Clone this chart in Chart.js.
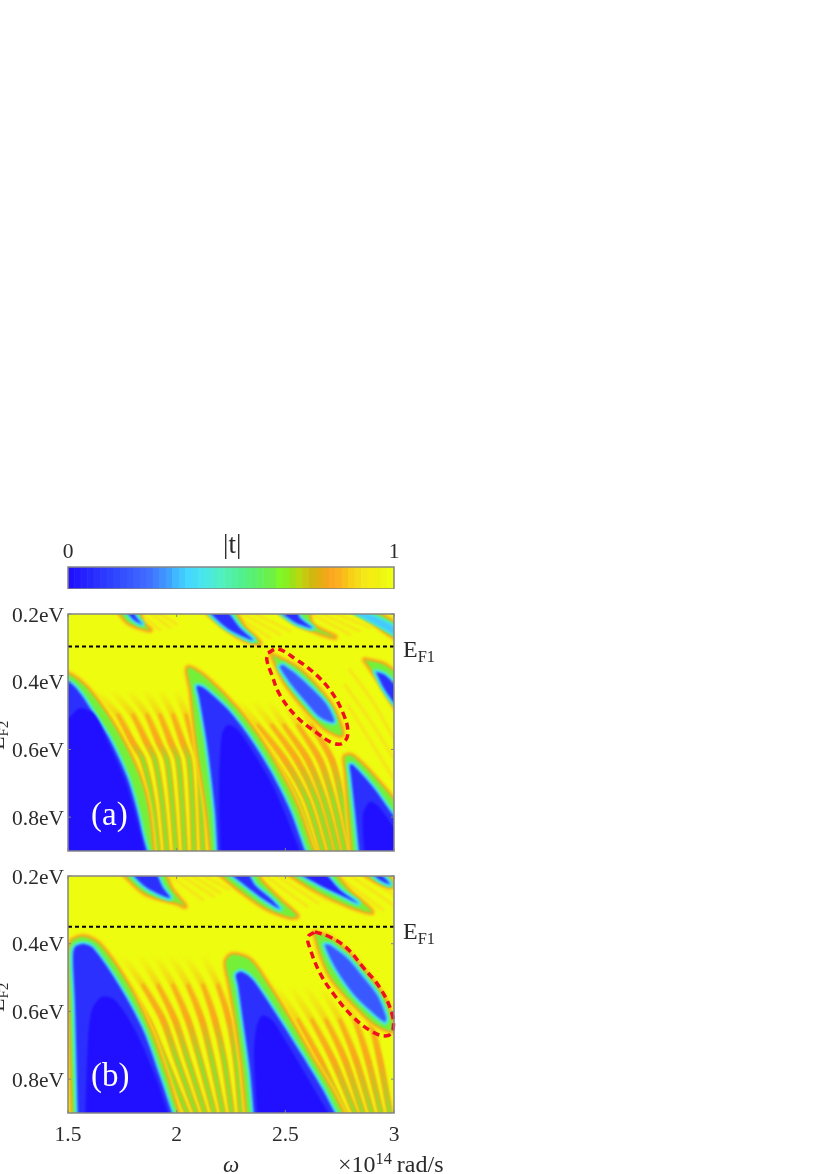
<!DOCTYPE html>
<html>
<head>
<meta charset="utf-8">
<script src="https://cdn.jsdelivr.net/npm/chart.js@4"></script>
<style>
  html, body { margin: 0; background: #fff; }
  #page { position: relative; width: 830px; height: 1174px; overflow: hidden; filter: blur(0.45px); font-family: "Liberation Serif", serif; color: #2b2b2b; }
  canvas { position: absolute; left: 0; }
  .lbl { position: absolute; line-height: 1; font-size: 24px; white-space: nowrap; }
  .low { position: relative; top: 0.3em; font-size: 0.68em; }
  .high { position: relative; top: -0.5em; font-size: 0.68em; margin-right: 5px; }
</style>
</head>
<body>
<div id="page">
  <canvas id="barChart" width="450" height="59" style="top:530px"></canvas>
  <canvas id="panelA" width="450" height="277" style="top:594px"></canvas>
  <canvas id="panelB" width="450" height="297" style="top:856px"></canvas>
  <span class="lbl" style="left:223px;top:531px;font-size:27px">|t|</span>
  <span class="lbl" style="left:403px;top:637px">E<span class="low">F1</span></span>
  <span class="lbl" style="left:403px;top:919px">E<span class="low">F1</span></span>
  <span class="lbl" style="left:91px;top:798px;font-size:33px;color:#fff">(a)</span>
  <span class="lbl" style="left:91px;top:1059px;font-size:33px;color:#fff">(b)</span>
  <span class="lbl" style="left:-14px;top:750px;font-size:22px;transform-origin:0 0;transform:rotate(-90deg)">E<span class="low">F2</span></span>
  <span class="lbl" style="left:-14px;top:1012px;font-size:22px;transform-origin:0 0;transform:rotate(-90deg)">E<span class="low">F2</span></span>
  <span class="lbl" style="left:223px;top:1153px;font-style:italic;font-size:23px">&omega;</span>
  <span class="lbl" style="left:338px;top:1152px;font-size:24px">&times;10<span class="high">14</span>rad/s</span>
</div>
<script>
// ===== DATA =====
const omegaTicks = [1.5, 2, 2.5, 3];
const fermiTicks = [0.2, 0.4, 0.6, 0.8];
const barTicks = [0, 1];
const fermiLineA = 0.296;
const fermiLineB = 0.35;

// colour bar, one level per step of |t|
const barLevels = [.01,.03,.05,.07,.09,.11,.13,.15,.17,.19,.21,.23,.25,.27,.29,.31,.33,.35,.37,.39,.41,.43,.45,.47,.49,
  .51,.53,.55,.57,.59,.61,.63,.65,.67,.69,.71,.73,.75,.77,.79,.81,.83,.85,.87,.89,.91,.93,.95,.97,.99];
const barColors = ['#2010ff','#2218ff','#2420ff','#2628ff','#2a30ff','#2c38ff','#2e40ff','#3048ff','#3450ff','#3858ff',
  '#3c60ff','#3e68ff','#4070ff','#4080ff','#4090ff','#40a0ff','#40b8ff','#42c8ff','#44d8ff','#46dcf8',
  '#48e4f0','#4ae8e0','#4cecd0','#50f0c0','#50f0b0','#50f0a0','#50f090','#54f080','#58f070','#60f060',
  '#68f050','#70f040','#80f828','#88f020','#a0e018','#b8d810','#c8c810','#d0b810','#e0b010','#f0a818',
  '#fca820','#fcb020','#f8c018','#f8d018','#f5dc18','#f5e818','#f5ee10','#f0f010','#eef810','#eeff10'];

// panel (a) contours, [omega, E_F2]
const a1Outer = [[1.4,.36],[1.5,.377],[1.578,.413],[1.67,.489],[1.762,.587],[1.831,.684],[1.868,.773],[1.891,.9],[1.9,.96],[1.4,.96]];
const a1Inner = [[1.4,.40],[1.5,.40],[1.555,.433],[1.615,.492],[1.693,.572],[1.771,.681],[1.817,.779],[1.845,.859],[1.864,.903],[1.87,.96],[1.4,.96]];
const a1Deep = [[1.4,.51],[1.5,.507],[1.555,.478],[1.624,.498],[1.684,.578],[1.758,.684],[1.804,.779],[1.85,.9],[1.85,.96],[1.4,.96]];
const a2Outer = [[2.162,.926],[2.139,.779],[2.093,.581],[2.066,.424],[2.052,.359],[2.13,.386],[2.277,.48],[2.369,.557],[2.461,.652],[2.553,.767],[2.627,.9],[2.65,.926]];
const a2Inner = [[2.19,.93],[2.176,.779],[2.139,.581],[2.103,.445],[2.093,.413],[2.126,.419],[2.185,.451],[2.245,.489],[2.337,.566],[2.429,.661],[2.521,.779],[2.59,.9],[2.613,.93]];
const a2Deep = [[2.204,.93],[2.195,.72],[2.208,.557],[2.236,.528],[2.282,.543],[2.36,.616],[2.452,.72],[2.567,.9],[2.581,.93]];
const a3Outer = [[2.811,.926],[2.793,.779],[2.779,.661],[2.774,.622],[2.806,.619],[2.912,.684],[3.027,.785],[3.03,.93]];
const a3Inner = [[2.843,.926],[2.82,.779],[2.802,.676],[2.797,.646],[2.811,.646],[2.903,.711],[2.995,.794],[3.027,.823],[3.03,.93]];
const a3Deep = [[2.866,.926],[2.857,.794],[2.889,.755],[2.935,.773],[3.027,.867],[3.03,.93]];
const a4Outer = [[2.866,.336],[2.958,.351],[3.027,.395],[3.027,.489],[2.935,.401]];
const a4Inner = [[2.917,.371],[2.958,.38],[3.018,.424],[3.018,.472],[2.958,.424]];
const a5Outer = [[2.438,.321],[2.553,.359],[2.65,.419],[2.719,.478],[2.76,.557],[2.682,.537],[2.59,.478],[2.498,.401]];
const a5Inner = [[2.489,.351],[2.553,.38],[2.627,.424],[2.691,.469],[2.724,.519],[2.659,.504],[2.599,.463],[2.53,.41],[2.475,.356]];
const t1Outer = [[1.716,.175],[1.776,.224],[1.877,.247],[1.84,.224],[1.817,.175]];
const t1Inner = [[1.748,.175],[1.799,.215],[1.84,.23],[1.813,.209],[1.785,.175]];
const t2Outer = [[2.107,.175],[2.208,.232],[2.314,.277],[2.383,.286],[2.314,.241],[2.236,.175]];
const t2Inner = [[2.13,.182],[2.231,.241],[2.351,.277],[2.291,.241],[2.213,.182]];
const t3Outer = [[2.438,.175],[2.544,.224],[2.659,.256],[2.728,.268],[2.622,.23],[2.595,.175]];
const t3Inner = [[2.452,.182],[2.544,.224],[2.622,.241],[2.567,.212],[2.544,.182]];
const t4Outer = [[2.774,.175],[2.889,.218],[3.027,.277],[3.027,.241],[2.912,.194],[2.843,.175]];
const t4Inner = [[2.82,.194],[2.912,.224],[3.027,.265],[3.027,.253],[2.926,.215]];
const ringA = [[2.42,.315],[2.466,.303],[2.553,.336],[2.627,.371],[2.705,.424],[2.765,.492],[2.788,.551],[2.765,.581],[2.719,.581],[2.645,.551],[2.553,.504],[2.475,.439],[2.438,.38],[2.415,.336]];

// panel (a) stripes
const stripeLevelsA1 = [.424,.498,.581,.631,.749,.9];
const stripesA1 = [
  [1.624,1.73,1.799,1.845,1.887,1.914],
  [1.702,1.799,1.863,1.90,1.932,1.955],
  [1.776,1.863,1.919,1.955,1.978,1.997],
  [1.854,1.923,1.974,2.006,2.024,2.038],
  [1.923,1.983,2.029,2.057,2.071,2.08],
  [1.997,2.043,2.08,2.103,2.112,2.121]
];
const stripeLevelsA2 = [.454,.528,.631,.749,.9];
const stripesA2 = [
  [2.208,2.314,2.443,2.553,2.636],
  [2.282,2.374,2.498,2.599,2.673],
  [2.351,2.438,2.553,2.641,2.71],
  [2.42,2.494,2.604,2.678,2.742],
  [2.489,2.558,2.659,2.719,2.774],
  [2.558,2.622,2.714,2.76,2.806]
];
const faintA = [
  [[1.82,.19],[1.923,.247]], [[1.86,.19],[1.97,.24]], [[1.90,.19],[2.0,.23]],
  [[2.236,.19],[2.429,.27]], [[2.28,.19],[2.475,.26]], [[2.33,.19],[2.52,.25]],
  [[2.59,.19],[2.797,.26]], [[2.64,.19],[2.84,.25]], [[2.70,.19],[2.89,.24]],
  [[2.87,.19],[3.03,.25]], [[2.93,.19],[3.03,.23]],
  [[2.797,.365],[2.898,.454],[2.995,.563]], [[2.774,.41],[2.889,.513],[2.995,.622]], [[2.788,.469],[2.889,.572],[2.995,.684]]
];

// panel (b) contours
const b1Outer = [[1.523,.935],[1.509,.575],[1.505,.433],[1.518,.392],[1.578,.38],[1.647,.404],[1.776,.522],[1.877,.655],[1.955,.794],[2.006,.9],[2.029,.935]];
const b1Inner = [[1.546,.935],[1.532,.575],[1.523,.439],[1.532,.41],[1.569,.401],[1.615,.413],[1.739,.528],[1.845,.655],[1.923,.794],[1.978,.9],[1.997,.935]];
const b1Deep = [[1.578,.935],[1.592,.684],[1.61,.596],[1.656,.557],[1.716,.566],[1.808,.655],[1.9,.788],[1.96,.9],[1.978,.935]];
const b2Outer = [[2.328,.935],[2.305,.773],[2.273,.625],[2.245,.522],[2.227,.454],[2.254,.433],[2.337,.448],[2.42,.522],[2.521,.625],[2.618,.734],[2.71,.832],[2.765,.9],[2.797,.935]];
const b2Inner = [[2.36,.935],[2.337,.773],[2.305,.625],[2.282,.522],[2.273,.492],[2.296,.483],[2.337,.498],[2.369,.522],[2.475,.625],[2.581,.734],[2.673,.832],[2.728,.9],[2.76,.935]];
const b2Deep = [[2.374,.935],[2.356,.734],[2.365,.655],[2.392,.613],[2.438,.625],[2.498,.684],[2.581,.773],[2.719,.92],[2.75,.935]];
const b3Outer = [[2.636,.368],[2.705,.383],[2.797,.433],[2.889,.501],[2.958,.566],[2.995,.655],[2.921,.64],[2.829,.587],[2.719,.507],[2.668,.439]];
const b3Inner = [[2.705,.404],[2.783,.442],[2.857,.498],[2.921,.551],[2.963,.616],[2.958,.631],[2.889,.596],[2.811,.546],[2.737,.478],[2.682,.404]];
const bt1Outer = [[1.739,.182],[1.854,.25],[2.006,.28],[2.038,.289],[1.978,.241],[1.923,.182]];
const bt1Inner = [[1.776,.182],[1.863,.235],[1.969,.265],[1.937,.235],[1.89,.182]];
const bt2Outer = [[2.176,.182],[2.291,.241],[2.406,.292],[2.521,.321],[2.553,.318],[2.475,.271],[2.392,.218],[2.351,.182]];
const bt2Inner = [[2.222,.182],[2.314,.227],[2.406,.271],[2.475,.297],[2.429,.265],[2.36,.227],[2.314,.182]];
const bt3Outer = [[2.489,.182],[2.636,.241],[2.797,.289],[2.898,.306],[2.797,.247],[2.696,.182]];
const bt3Inner = [[2.53,.182],[2.659,.227],[2.774,.262],[2.834,.28],[2.751,.241],[2.659,.182]];
const bt4Outer = [[2.834,.182],[2.926,.218],[2.99,.232],[2.958,.188]];
const bt4Inner = [[2.88,.182],[2.935,.212],[2.981,.224],[2.935,.194]];
const ringB = [[2.636,.365],[2.705,.38],[2.783,.413],[2.857,.469],[2.936,.531],[2.99,.605],[2.995,.655],[2.967,.672],[2.903,.661],[2.811,.616],[2.719,.546],[2.659,.486],[2.613,.413],[2.604,.38]];

// panel (b) stripes
const stripeLevelsB1 = [.433,.522,.625,.743,.9];
const stripesB1 = [
  [1.67,1.771,1.868,1.946,2.047],
  [1.748,1.845,1.937,2.001,2.089],
  [1.831,1.914,1.992,2.052,2.13],
  [1.9,1.983,2.052,2.107,2.172],
  [1.969,2.052,2.116,2.162,2.213],
  [2.038,2.121,2.176,2.218,2.254],
  [2.121,2.19,2.241,2.273,2.296]
];
const stripeLevelsB2 = [.522,.625,.743,.9];
const stripesB2 = [
  [2.452,2.558,2.659,2.774],
  [2.521,2.622,2.719,2.82],
  [2.59,2.687,2.774,2.857],
  [2.659,2.751,2.825,2.898],
  [2.728,2.82,2.88,2.94],
  [2.806,2.889,2.935,2.981]
];
const faintB = [
  [[1.95,.19],[2.12,.27]], [[2.0,.19],[2.17,.26]], [[2.05,.19],[2.2,.25]], [[2.1,.19],[2.24,.24]],
  [[2.39,.19],[2.6,.29]], [[2.44,.19],[2.65,.28]], [[2.5,.19],[2.69,.27]],
  [[2.72,.19],[2.95,.3]], [[2.78,.19],[3.03,.3]], [[2.85,.19],[3.03,.27]], [[2.98,.19],[3.03,.22]]
];

// ===== DRAWING =====
const YELLOW = '#eefc10';
const FRAME = '#858585';
const SOFT = 'blur(0.8px)';

function xy(pts) {
    return pts.map(p => ({ x: p[0], y: p[1] }));
}

function closed(pts) {
    return xy(pts.concat([pts[0]]));
}

function curve(data, color, width, extra) {
    return Object.assign({
        data: data, borderColor: color, borderWidth: width, backgroundColor: 'transparent',
        pointRadius: 0, tension: 0.3, fill: false, clip: 0, borderJoinStyle: 'round', borderCapStyle: 'round'
    }, extra || {});
}

function blob(data, fillColor, stroke, width) {
    return curve(data, stroke || fillColor, width || 0, { fill: 'shape', backgroundColor: fillColor });
}

// colour that changes with E_F2 between two levels
function fade(fromLevel, toLevel, fromColor, toColor) {
    return ctx => {
        const y = ctx.chart.scales.y;
        const y0 = y ? y.getPixelForValue(fromLevel) : NaN;
        const y1 = y ? y.getPixelForValue(toLevel) : NaN;
        if (!isFinite(y0) || !isFinite(y1)) return toColor;
        const g = ctx.chart.ctx.createLinearGradient(0, y0, 0, y1);
        g.addColorStop(0, fromColor);
        g.addColorStop(1, toColor);
        return g;
    };
}

// a dip in |t|: soft rim, green band, cyan edge and blue core
function tongue(list, outer, inner, deep, coreColor) {
    const o = closed(outer), i = closed(inner);
    list.push(curve(o, '#f6e016', 8));
    list.push(curve(o, '#f8a81c', 4.5));
    list.push(blob(o, '#74f038'));
    list.push(curve(i, '#50f0b0', 6.5));
    list.push(curve(i, '#44d8ff', 3));
    list.push(blob(i, coreColor || '#2c30ff'));
    if (deep) list.push(blob(closed(deep), '#2010ff'));
}

function stripes(list, rows, levels, coreFrom) {
    const last = levels.length - 1;
    rows.forEach(row => {
        const pts = xy(row.map((w, k) => [w, levels[k]]));
        list.push(curve(pts, fade(levels[0], levels[coreFrom], YELLOW, '#f8a81c'), 6.5));
        list.push(curve(pts.slice(coreFrom - 1), fade(levels[coreFrom], levels[Math.min(coreFrom + 1, last)], '#f8a81c', '#70f030'), 3));
    });
}

function panelDatasets(build, line, ring) {
    const list = [];
    build(list);
    list.push(curve(xy([[1.5, line], [3, line]]), '#000', 2, { borderDash: [4, 3], tension: 0, borderCapStyle: 'butt', sharp: true }));
    list.push(curve(closed(ring), '#f00f20', 3.5, { borderDash: [7, 4.5], tension: 0.4, clip: false, borderCapStyle: 'butt', sharp: true }));
    list.forEach((d, k) => { d.order = list.length - k; });
    return list;
}

const framePlugin = {
    id: 'frame',
    beforeDatasetsDraw(chart) {
        if (chart.canvas.id === 'barChart') return;
        const a = chart.chartArea, c = chart.ctx;
        c.fillStyle = YELLOW;
        c.fillRect(a.left, a.top, a.width, a.height);
        c.filter = SOFT;
    },
    beforeDatasetDraw(chart, args) {
        if (chart.canvas.id === 'barChart') return;
        chart.ctx.filter = chart.data.datasets[args.index].sharp ? 'none' : SOFT;
    },
    afterDatasetsDraw(chart) {
        const a = chart.chartArea, c = chart.ctx;
        c.filter = 'none';
        c.save();
        c.strokeStyle = FRAME;
        c.lineWidth = 1.5;
        c.strokeRect(a.left, a.top, a.width, a.height);
        if (chart.canvas.id !== 'barChart') {
            c.beginPath();
            omegaTicks.forEach(w => {
                const x = chart.scales.x.getPixelForValue(w);
                c.moveTo(x, a.top); c.lineTo(x, a.top + 3);
                c.moveTo(x, a.bottom); c.lineTo(x, a.bottom - 3);
            });
            fermiTicks.forEach(e => {
                const y = chart.scales.y.getPixelForValue(e);
                c.moveTo(a.left, y); c.lineTo(a.left + 3, y);
                c.moveTo(a.right, y); c.lineTo(a.right - 3, y);
            });
            c.lineWidth = 1;
            c.stroke();
        }
        c.restore();
    }
};

function panelChart(id, datasets, showOmega) {
    const chart = new Chart(document.getElementById(id), {
        type: 'line',
        data: { datasets: datasets },
        plugins: [framePlugin],
        options: {
            responsive: false,
            animation: false,
            layout: { padding: { top: 20, right: 56, bottom: showOmega ? 0 : 20, left: 0 } },
            plugins: { legend: { display: false }, tooltip: { enabled: false } },
            scales: {
                x: {
                    type: 'linear', min: 1.5, max: 3,
                    afterBuildTicks: s => { s.ticks = omegaTicks.map(v => ({ value: v })); },
                    afterFit: s => { s.height = showOmega ? 40 : 0; },
                    grid: { display: false, drawTicks: false, tickLength: 0 }, border: { display: false },
                    ticks: {
                        display: showOmega, color: '#2b2b2b', padding: 9, maxRotation: 0, autoSkip: false,
                        font: { family: 'Liberation Serif', size: 21.5 },
                        callback: v => String(v)
                    }
                },
                y: {
                    type: 'linear', reverse: true, min: 0.2, max: 0.9,
                    afterBuildTicks: s => { s.ticks = fermiTicks.map(v => ({ value: v })); },
                    afterFit: s => { s.width = 68; },
                    grid: { display: false, drawTicks: false, tickLength: 0 }, border: { display: false },
                    ticks: {
                        color: '#2b2b2b', padding: 4, autoSkip: false, labelOffset: 2,
                        font: { family: 'Liberation Serif', size: 21.5 },
                        callback: v => v.toFixed(1) + 'eV'
                    }
                }
            }
        }
    });
    // gradients need the scales, so they resolve on the second pass
    chart.update();
}

new Chart(document.getElementById('barChart'), {
    type: 'bar',
    data: {
        datasets: [{
            data: barLevels.map(v => ({ x: v, y: 1 })),
            backgroundColor: barColors, borderColor: barColors, borderWidth: 0.5,
            barPercentage: 1, categoryPercentage: 1
        }]
    },
    plugins: [framePlugin],
    options: {
        responsive: false,
        animation: false,
        layout: { padding: { top: 0, right: 56, bottom: 0, left: 68 } },
        plugins: { legend: { display: false }, tooltip: { enabled: false } },
        scales: {
            x: {
                type: 'linear', position: 'top', min: 0, max: 1, offset: false,
                afterBuildTicks: s => { s.ticks = barTicks.map(v => ({ value: v })); },
                afterFit: s => { s.height = 37; },
                grid: { display: false, drawTicks: false, tickLength: 0 }, border: { display: false },
                ticks: {
                    color: '#2b2b2b', padding: 2, maxRotation: 0, autoSkip: false,
                    font: { family: 'Liberation Serif', size: 21.5 },
                    callback: v => String(v)
                }
            },
            y: { display: false, min: 0, max: 1 }
        }
    }
});

panelChart('panelA', panelDatasets(list => {
    faintA.forEach(f => list.push(curve(xy(f), '#f6e41a', 3)));
    stripes(list, stripesA1, stripeLevelsA1, 2);
    stripes(list, stripesA2, stripeLevelsA2, 2);
    tongue(list, a1Outer, a1Inner, a1Deep);
    tongue(list, a2Outer, a2Inner, a2Deep);
    tongue(list, a3Outer, a3Inner, a3Deep);
    tongue(list, a4Outer, a4Inner, null);
    tongue(list, a5Outer, a5Inner, null, '#3a58ff');
    tongue(list, t1Outer, t1Inner, null);
    tongue(list, t2Outer, t2Inner, null);
    tongue(list, t3Outer, t3Inner, null);
    tongue(list, t4Outer, t4Inner, null, '#44c8ff');
}, fermiLineA, ringA), false);

panelChart('panelB', panelDatasets(list => {
    faintB.forEach(f => list.push(curve(xy(f), '#f6e41a', 3)));
    stripes(list, stripesB1, stripeLevelsB1, 2);
    stripes(list, stripesB2, stripeLevelsB2, 2);
    tongue(list, b1Outer, b1Inner, b1Deep);
    tongue(list, b2Outer, b2Inner, b2Deep);
    tongue(list, b3Outer, b3Inner, null, '#3a58ff');
    tongue(list, bt1Outer, bt1Inner, null);
    tongue(list, bt2Outer, bt2Inner, null);
    tongue(list, bt3Outer, bt3Inner, null, '#2820ff');
    tongue(list, bt4Outer, bt4Inner, null);
}, fermiLineB, ringB), true);
</script>
</body>
</html>
